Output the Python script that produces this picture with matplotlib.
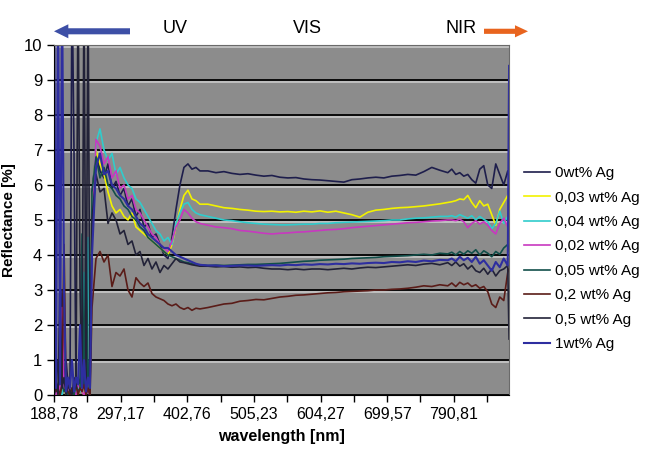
import numpy as np
import matplotlib
matplotlib.use("Agg")
import matplotlib.pyplot as plt
import matplotlib.patheffects as pe

# channel index along the spectrometer axis (category axis in the original)
channel = np.concatenate([
    np.arange(0, 55, 3),      # noisy UV start
    np.arange(57, 220, 6),    # decline region
    np.arange(231, 592, 12),  # flat visible region
    np.arange(597, 682, 6),   # noisy NIR end
    [683],
])

tick_labels = ["188,78", "297,17", "402,76", "505,23", "604,27", "699,57", "790,81"]

r_0wt = [4.0, 0.3, 1.0, 0.5, 3.0, 0.2, 1.0, 0.3, 0.5, 12, 6.9, 0.2, 0.5, 0.3, 1.0, 0.3, 0.4, 1.0, 0.0,
         5.8, 6.9, 6.4, 6.2, 6.6, 5.9, 6.1, 5.7, 5.9, 5.4, 5.6, 5.1, 5.3, 4.8, 4.9, 4.5, 4.6, 4.3,
         4.0, 3.9, 4.5, 5.3, 6.0, 6.5, 6.6, 6.45, 6.5, 6.4,
         6.4, 6.35, 6.38, 6.33, 6.3, 6.32, 6.28, 6.25, 6.27, 6.22, 6.2, 6.21, 6.17, 6.15, 6.14, 6.12,
         6.1, 6.08, 6.15, 6.17, 6.2, 6.22, 6.2, 6.25, 6.27, 6.3, 6.28, 6.38, 6.5, 6.42, 6.35,
         6.45, 6.3, 6.35, 6.25, 6.3, 6.15, 6.05, 6.45, 6.55, 6.0, 5.9, 6.6, 6.3, 6.0, 6.4, 6.2]

r_003wt = [0.0, 0.1, 0.0, 0.2, 0.1, 0.3, 0.0, 0.1, 0.2, 0.0, 0.1, 0.2, 0.0, 0.3, 0.1, 0.0, 0.2, 0.5, 0.0,
           5.5, 7.0, 6.6, 6.3, 5.8, 5.4, 5.2, 5.3, 5.1, 5.0, 5.2, 4.8, 4.7, 4.6, 4.5, 4.4, 4.3, 4.2,
           4.1, 4.0, 4.3, 4.8, 5.3, 5.7, 5.85, 5.6, 5.55, 5.45,
           5.45, 5.4, 5.35, 5.33, 5.3, 5.28, 5.25, 5.24, 5.25, 5.23, 5.24, 5.22, 5.25, 5.23, 5.26, 5.22,
           5.25, 5.2, 5.15, 5.08, 5.22, 5.28, 5.3, 5.33, 5.35, 5.36, 5.38, 5.4, 5.43, 5.46, 5.5,
           5.52, 5.55, 5.6, 5.58, 5.7, 5.5, 5.35, 5.55, 5.4, 5.45, 5.15, 4.85, 5.3, 5.5, 5.7, 5.5]

r_004wt = [0.1, 0.0, 0.2, 0.1, 0.0, 0.3, 0.1, 0.2, 0.0, 0.1, 0.3, 0.0, 0.2, 0.1, 0.5, 3.5, 0.8, 4.5, 0.0,
           5.0, 7.2, 7.6, 7.0, 6.7, 6.9, 6.3, 6.5, 6.2, 6.0, 5.9, 5.6, 5.5, 5.3, 5.1, 4.9, 4.7, 4.6,
           4.4, 4.5, 4.3, 4.9, 5.2, 5.45, 5.5, 5.3, 5.2, 5.15,
           5.1, 5.05, 5.0, 4.98, 4.95, 4.92, 4.9, 4.88, 4.87, 4.86, 4.86, 4.87, 4.88, 4.88, 4.9, 4.9,
           4.92, 4.93, 4.94, 4.95, 4.96, 4.97, 4.98, 5.0, 5.0, 5.03, 5.05, 5.06, 5.08, 5.1, 5.1,
           5.12, 5.08, 5.15, 5.1, 5.05, 5.12, 5.0, 5.1, 5.02, 4.95, 4.75, 4.9, 5.25, 4.9, 5.1, 5.0]

r_002wt = [0.2, 0.0, 0.3, 0.1, 2.5, 0.2, 0.1, 0.3, 0.0, 0.2, 0.1, 0.0, 0.3, 0.2, 0.1, 0.0, 0.2, 0.1, 0.0,
           4.5, 7.3, 7.1, 6.6, 6.8, 6.2, 6.4, 5.9, 6.0, 5.6, 5.7, 5.3, 5.2, 5.0, 4.8, 4.6, 4.5, 4.3,
           4.2, 4.1, 4.4, 4.8, 5.0, 5.3, 5.2, 5.05, 4.95, 4.9,
           4.85, 4.8, 4.78, 4.75, 4.7, 4.68, 4.65, 4.62, 4.6, 4.62, 4.63, 4.65, 4.66, 4.68, 4.7, 4.72,
           4.73, 4.75, 4.78, 4.8, 4.82, 4.84, 4.86, 4.88, 4.9, 4.92, 4.93, 4.95, 4.97, 4.98, 5.0,
           5.0, 4.98, 5.02, 4.95, 4.78, 4.9, 4.98, 4.88, 4.95, 4.85, 4.7, 4.6, 4.9, 5.05, 4.8, 4.9]

r_005wt = [0.0, 0.2, 0.1, 0.0, 0.3, 0.1, 0.2, 0.0, 0.1, 0.2, 0.0, 0.3, 0.1, 0.2, 4.6, 0.3, 5.0, 0.2, 0.0,
           5.8, 6.8, 6.2, 6.5, 6.0, 5.9, 5.7, 5.6, 5.4, 5.3, 5.1, 5.0, 4.8, 4.7, 4.5, 4.4, 4.3, 4.2,
           4.1, 4.0, 3.95, 3.9, 3.85, 3.8, 3.78, 3.75, 3.72, 3.72,
           3.7, 3.71, 3.7, 3.71, 3.72, 3.73, 3.73, 3.74, 3.75, 3.76, 3.78, 3.8, 3.82, 3.83, 3.85, 3.86,
           3.87, 3.88, 3.9, 3.91, 3.92, 3.93, 3.95, 3.96, 3.97, 3.98, 4.0, 4.02, 4.0, 4.05, 4.03,
           4.08, 4.0, 4.1, 4.02, 4.12, 4.05, 4.15, 4.0, 4.12, 4.05, 3.95, 4.1, 4.02, 4.2, 4.3, 4.1]

r_02wt = [0.3, 0.1, 0.2, 0.0, 0.3, 4.3, 0.2, 0.1, 0.0, 0.2, 0.1, 0.3, 0.0, 0.2, 0.1, 0.3, 0.0, 0.2, 0.0,
          2.5, 3.9, 4.1, 3.8, 4.0, 3.1, 3.5, 3.4, 3.6, 3.0, 2.8, 3.35, 3.2, 3.1, 3.2, 2.9, 2.8, 2.75,
          2.7, 2.6, 2.55, 2.6, 2.5, 2.45, 2.5, 2.42, 2.48, 2.46,
          2.5, 2.55, 2.6, 2.62, 2.68, 2.7, 2.73, 2.72, 2.76, 2.8, 2.82, 2.85, 2.86, 2.88, 2.9, 2.92,
          2.93, 2.95, 2.96, 2.97, 2.98, 3.0, 3.0, 3.02, 3.03, 3.05, 3.08, 3.12, 3.1, 3.15, 3.12,
          3.2, 3.1, 3.22, 3.15, 3.2, 3.1, 3.15, 3.05, 3.1, 2.95, 2.6, 2.5, 2.8, 2.7, 3.5, 3.6]

r_05wt = [0.0, 0.4, 0.0, 3.3, 0.2, 0.5, 0.0, 0.3, 0.1, 0.0, 0.5, 0.2, 12, 3.1, 0.3, 12, 0.2, 12, 0.2,
          5.0, 6.3, 5.8, 5.9, 4.9, 5.2, 5.0, 4.6, 4.7, 4.3, 4.4, 4.0, 4.1, 3.7, 3.9, 3.6, 3.8, 3.5,
          3.7, 3.6, 3.75, 3.9, 3.8, 3.78, 3.75, 3.72, 3.7, 3.68,
          3.68, 3.66, 3.67, 3.65, 3.66, 3.64, 3.65, 3.62, 3.6, 3.6, 3.58, 3.6, 3.58, 3.6, 3.6, 3.58,
          3.6, 3.62, 3.6, 3.63, 3.65, 3.64, 3.66, 3.68, 3.7, 3.72, 3.7, 3.74, 3.76, 3.72, 3.78,
          3.7, 3.8, 3.68, 3.75, 3.6, 3.7, 3.55, 3.5, 3.62, 3.45, 3.6, 3.4, 3.55, 3.6, 3.7, 1.6]

r_1wt = [12, 0.2, 12, 0.3, 12, 3.0, 0.1, 0.5, 0.2, 1.0, 0.1, 0.5, 0.3, 2.0, 0.2, 1.0, 0.1, 0.5, 0.2,
         4.0, 6.5, 6.9, 6.3, 6.4, 6.0, 5.9, 5.7, 5.6, 5.4, 5.3, 5.1, 4.9, 4.8, 4.6, 4.5, 4.4, 4.3,
         4.2, 4.2, 4.1, 4.0, 3.95, 3.9, 3.85, 3.8, 3.75, 3.72,
         3.7, 3.7, 3.68, 3.69, 3.7, 3.7, 3.69, 3.7, 3.71, 3.7, 3.72, 3.71, 3.73, 3.72, 3.74, 3.73,
         3.75, 3.74, 3.76, 3.75, 3.77, 3.78, 3.77, 3.8, 3.79, 3.82, 3.8, 3.84, 3.82, 3.86, 3.85,
         3.9, 3.82, 3.95, 3.85, 3.92, 3.8, 3.95, 3.75, 3.85, 3.7, 3.55, 3.8, 3.65, 3.9, 3.7, 9.4]

series = [
    ("0wt% Ag", r_0wt, "#1e1e4c"),
    ("0,03 wt% Ag", r_003wt, "#f2f200"),
    ("0,04 wt% Ag", r_004wt, "#30cccc"),
    ("0,02 wt% Ag", r_002wt, "#c838c0"),
    ("0,05 wt% Ag", r_005wt, "#124f4a"),
    ("0,2 wt% Ag", r_02wt, "#5a1c18"),
    ("0,5 wt% Ag", r_05wt, "#222238"),
    ("1wt% Ag", r_1wt, "#2e2ea0"),
]

plt.rcParams['font.family'] = ['Liberation Sans', 'DejaVu Sans']

fig = plt.figure(figsize=(6.51, 4.67), dpi=100)
ax = fig.add_axes([0.083, 0.154, 0.699, 0.750])
ax.set_facecolor("#8c8c8c")

for name, vals, col in series:
    lw = 1.5 if name == "1wt% Ag" else 1.2
    ax.plot(channel, vals, color=col, lw=lw, label=name)

ax.set_xlim(0, 683)
ax.set_ylim(0, 10)
ax.set_yticks(range(0, 11))
ax.set_yticklabels([str(v) for v in range(0, 11)], fontsize=12)
ax.set_xticks(np.arange(0, 651, 50))
ax.set_xticklabels([tick_labels[i // 2] if i % 2 == 0 else "" for i in range(14)], fontsize=11.5)
ax.tick_params(axis="both", direction="out", length=5, width=1, color="black")

ax.grid(axis="y", color="black", lw=1.3)
for gl in ax.yaxis.get_gridlines():
    gl.set_path_effects([pe.SimpleLineShadow(offset=(0, -1.6), shadow_color="#c4c4c4", alpha=1.0, rho=1.0),
                         pe.Normal()])
ax.set_axisbelow(True)

ax.spines["left"].set_color("black")
ax.spines["bottom"].set_color("black")
ax.spines["top"].set_color("#6a6a6a")
ax.spines["right"].set_color("#6a6a6a")

ax.set_ylabel("Reflectance [%]", fontsize=11, fontweight="bold")
ax.yaxis.set_label_coords(-0.083, 0.5)
ax.set_xlabel("wavelength [nm]", fontsize=11.5, fontweight="bold", labelpad=5)

leg = fig.legend(loc="upper left", bbox_to_anchor=(0.795, 0.657), frameon=False,
                 fontsize=11, handlelength=1.7, handletextpad=0.35, labelspacing=0.68,
                 borderaxespad=0)

# spectral region annotations above the plot
fig.patches.append(matplotlib.patches.FancyArrow(
    130 / 651, 0.933, -76 / 651, 0, width=0.013, head_width=0.03, head_length=0.022,
    length_includes_head=True, transform=fig.transFigure, color="#3d4fa6", lw=0))
fig.patches.append(matplotlib.patches.FancyArrow(
    484 / 651, 0.933, 44 / 651, 0, width=0.011, head_width=0.026, head_length=0.02,
    length_includes_head=True, transform=fig.transFigure, color="#e8641e", lw=0))
fig.text(175 / 651, 0.94, "UV", fontsize=13, ha="center", va="center")
fig.text(307 / 651, 0.94, "VIS", fontsize=13, ha="center", va="center")
fig.text(461 / 651, 0.94, "NIR", fontsize=13, ha="center", va="center")

fig.savefig("out.png", dpi=100)
